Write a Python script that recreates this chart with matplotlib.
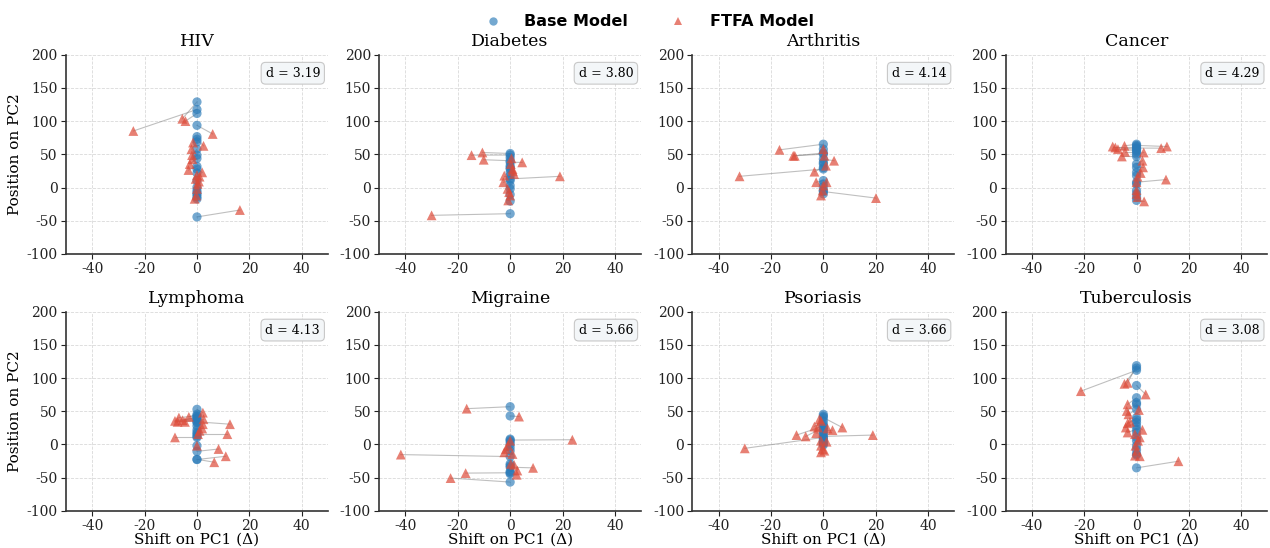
import matplotlib

matplotlib.use("Agg")
import matplotlib.pyplot as plt
from matplotlib.lines import Line2D

plt.rcParams["font.family"] = "DejaVu Serif"
plt.rcParams["axes.unicode_minus"] = False

DISEASES = ["HIV", "Diabetes", "Arthritis", "Cancer",
            "Lymphoma", "Migraine", "Psoriasis", "Tuberculosis"]
D_VALUES = [3.19, 3.80, 4.14, 4.29, 4.13, 5.66, 3.66, 3.08]

# base model sits at shift 0; FTFA points are (shift, position)
hiv_base = [129, 117.6, 111.6, 93.7, 76.7, 72.7, 68.8, 57.8, 48.8, 43.8, 31.9,
            27.9, 21.9, 10.5, 0.5, -4.5, -10.5, -17, -44.3, -8, -14]
hiv_ftfa_x = [-5.6, -24.3, -4.4, 6.0, -1.5, 2.5, -2.1, -1.9, -1.75, -2.75, -3.25,
              2, 0, 1, -0.5, 0.75, 0.25, 0, 16.4, -0.25, -0.9]
hiv_ftfa_y = [103.6, 85.2, 100.1, 80.7, 67.8, 62.8, 57.8, 48.8, 42.8, 35.4, 26.4,
              22.9, 18.9, 16.4, 13, 9, 5.5, -2, -33.9, -12, -17]

diabetes_base = [51.3, 49, 40.4, 38, 32.9, 27.9, 22.9, 17.9, 13, 10.5, 3, -2,
                 -10.5, -20.4, -39.4, 45, 30]
diabetes_ftfa_x = [-10.6, -14.75, -10.1, 4.6, 0.25, 0.9, 1.5, -2.25, 19, -2.6, -1,
                   -0.4, 0, -0.75, -30, 0.5, 1]
diabetes_ftfa_y = [52.8, 48.8, 41.9, 37.9, 35.4, 27.9, 20.4, 17.9, 16.9, 8, -2,
                   -7, -12, -19.4, -41.9, 44, 25]

arthritis_base = [65.3, 57.8, 52, 50.3, 42.8, 38, 35.4, 30, 27.9, 10.5, 5.5, 1,
                  -4.5, -6, -9.5]
arthritis_ftfa_x = [-16.75, 0, -10.9, -11.5, 4.1, 0.4, 1, -3.4, -32, -2.75, 1.25,
                    0, -0.25, 20.1, -0.9]
arthritis_ftfa_y = [56.8, 57.8, 47.8, 47.8, 40.4, 47.8, 32.9, 23.9, 16.9, 8, 8, 3,
                    -4.5, -15.9, -12]

cancer_base = [65.3, 63.5, 61.8, 59.5, 57.8, 55.8, 53.8, 50.3, 46.8, 35.4, 30.4,
               22.9, 17.9, 8, 5.5, -4.5, -9.5, -14.5, -19.4]
cancer_ftfa_x = [-4.6, 11.6, -9.1, 9.4, -8.1, -7.1, -4.4, 2.75, -5.6, 2.25, 2.5,
                 1.6, 0.4, 11.25, 0, 0, 0.4, 0, 2.9]
cancer_ftfa_y = [62.8, 61.8, 61.8, 59.3, 60.3, 57.8, 53.8, 52.8, 46.8, 40.4, 30.4,
                 21.9, 16.4, 12, 8, -9.5, -14.5, -4, -20.9]

lymphoma_base = [52.8, 45.3, 43, 41.4, 39.5, 37.9, 36, 34, 32.9, 27.9, 21.9, 18,
                 15.4, 12.5, 10.5, -2, -10.5, -22.9, -22.5]
lymphoma_ftfa_x = [2.25, -3.1, -6.9, -5.5, -8.4, -7.4, -4.6, 12.6, 2.5, 2.25, 2,
                   1, 11.6, 0.4, -8.4, 0, 8.25, 11, 6.6]
lymphoma_ftfa_y = [47.8, 41.4, 40.4, 36.4, 35.4, 33.9, 33.9, 30.4, 37.9, 30.4,
                   23.9, 20.4, 15.4, 15.4, 10.5, -2, -7, -17.9, -26.9]

migraine_base = [56.8, 42.8, 8, 6.5, 4, 0.5, -4.5, -9.5, -18.4, -29.4, -32, -34.4,
                 -40.9, -42.8, -44.3, -56.8]
migraine_ftfa_x = [-16.6, 3.4, 0, 23.75, -0.75, -1.6, -2.25, 0.9, -41.75, 0.25,
                   1.5, 8.75, 2.75, -17, 2.5, -22.75]
migraine_ftfa_y = [53.8, 41.9, 5.5, 7, -2, -7, -12, -14.5, -15.4, -29.4, -30.9,
                   -35.4, -39.4, -43.3, -45.8, -50.8]

psoriasis_base = [45.3, 42.5, 40.4, 35.4, 30.4, 27.5, 25.4, 22.5, 20.4, 17.5,
                  15.4, 12, 10.5, 8, 5.5, 3, 1, -1]
psoriasis_ftfa_x = [-1.5, -0.9, 7.25, -3.4, -2.1, -10.25, -6.75, 1.6, 3.5, -2.75,
                    -0.9, 18.9, -30, 1.25, -0.9, -0.25, 0.4, -0.9]
psoriasis_ftfa_y = [37.9, 35.4, 25.4, 26.9, 25.4, 14, 12, 23.9, 21.4, 16.9, 5.5,
                    14, -6, 4, -2, -7, -9.5, -12]

tb_base = [118.6, 115, 111.6, 88.7, 70.3, 62.8, 60.3, 52.8, 40.4, 36.9, 32.9,
           27.9, 22.9, 17.9, 10.5, 5.5, -2, -8, -14.5, -16, -35.4]
tb_ftfa_x = [-3.4, -4.6, -21.25, 3.5, -3.4, -3.75, 0.9, -3.1, -2.5, -3.4, -4.1,
             2.25, -3.4, -0.6, 1.25, 0.6, -0.4, 0, -0.6, 1.25, 16]
tb_ftfa_y = [92.7, 91.2, 80.2, 75.2, 60.3, 50.3, 51.8, 45.3, 33.9, 31.9, 25.4,
             21.9, 17.9, 15.4, 10.5, 5.5, -2, -9.5, -17, -17.9, -25.4]

BASE_Y = [hiv_base, diabetes_base, arthritis_base, cancer_base,
          lymphoma_base, migraine_base, psoriasis_base, tb_base]
FTFA_X = [hiv_ftfa_x, diabetes_ftfa_x, arthritis_ftfa_x, cancer_ftfa_x,
          lymphoma_ftfa_x, migraine_ftfa_x, psoriasis_ftfa_x, tb_ftfa_x]
FTFA_Y = [hiv_ftfa_y, diabetes_ftfa_y, arthritis_ftfa_y, cancer_ftfa_y,
          lymphoma_ftfa_y, migraine_ftfa_y, psoriasis_ftfa_y, tb_ftfa_y]

BLUE = "#2a7ab8"
RED = "#dd4b39"

fig, axes = plt.subplots(2, 4, figsize=(12.7, 5.48), dpi=100)
fig.subplots_adjust(left=0.052, right=0.998, top=0.9, bottom=0.068,
                    wspace=0.196, hspace=0.29)

for i, ax in enumerate(axes.flat):
    base_y = BASE_Y[i]
    fx, fy = FTFA_X[i], FTFA_Y[i]
    for by, x, y in zip(base_y, fx, fy):
        ax.plot([0, x], [by, y], color="gray", alpha=0.5, linewidth=0.8, zorder=1)
    ax.scatter([0] * len(base_y), base_y, s=44, color=BLUE, alpha=0.65,
               edgecolors="none", marker="o", zorder=3)
    ax.scatter(fx, fy, s=50, color=RED, alpha=0.7, edgecolors="none",
               marker="^", zorder=4)

    ax.set_xlim(-50, 50)
    ax.set_ylim(-100, 200)
    ax.set_xticks([-40, -20, 0, 20, 40])
    ax.set_yticks([-100, -50, 0, 50, 100, 150, 200])
    ax.tick_params(labelsize=10, colors="#222222", pad=2.5)
    ax.grid(True, linestyle="--", linewidth=0.6, color="#d0d0d0", alpha=0.8)
    ax.set_axisbelow(True)
    for side in ["top", "right"]:
        ax.spines[side].set_visible(False)
    for side in ["left", "bottom"]:
        ax.spines[side].set_linewidth(1.2)
        ax.spines[side].set_color("#333333")
    ax.set_title(DISEASES[i], fontsize=12.5)
    ax.text(0.97, 0.94, f"d = {D_VALUES[i]:.2f}", transform=ax.transAxes,
            ha="right", va="top", fontsize=9,
            bbox=dict(boxstyle="round,pad=0.35", facecolor="#f3f6f8",
                      edgecolor="#c8c8c8", linewidth=0.8))
    if i % 4 == 0:
        ax.set_ylabel("Position on PC2", fontsize=11, labelpad=3)
    if i >= 4:
        ax.set_xlabel("Shift on PC1 (Δ)", fontsize=11, labelpad=0)

handles = [
    Line2D([], [], linestyle="none", marker="o", markersize=6,
           color=BLUE, alpha=0.65, markeredgewidth=0),
    Line2D([], [], linestyle="none", marker="^", markersize=6,
           color=RED, alpha=0.7, markeredgewidth=0),
]
fig.legend(handles, ["Base Model", "FTFA Model"], loc="upper center",
           bbox_to_anchor=(0.508, 1.0), ncol=2, frameon=False,
           columnspacing=2.1, handletextpad=1.0,
           prop={"family": "DejaVu Sans", "weight": "bold", "size": 11.5})

fig.savefig("out.png", dpi=100)
